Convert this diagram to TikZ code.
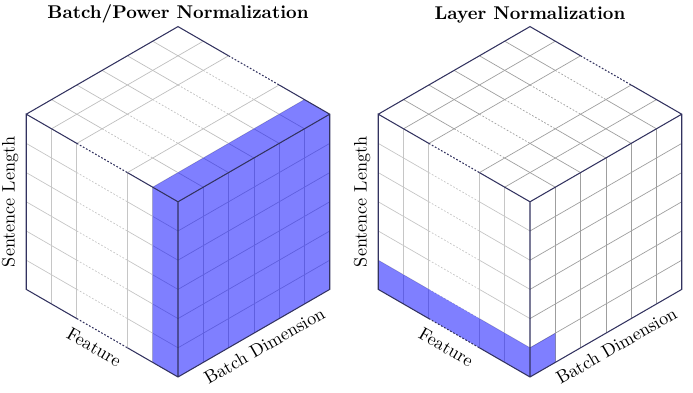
\documentclass[tikz,border=0pt]{standalone}
\definecolor{edgecol}{RGB}{50,50,95}
\tikzset{
  cubeedge/.style={edgecol, line width=0.6pt},
  gridline/.style={gray!50, line width=0.4pt},
  sideline/.style={gray!45, line width=0.4pt},
  dots/.style={dash pattern=on 1pt off 1pt},
  normfill/.style={fill=blue, fill opacity=0.5},
  headline/.style={font=\fontsize{10.5pt}{12pt}\selectfont\bfseries},
  axislabel/.style={font=\fontsize{10.3pt}{12pt}\selectfont}
}
\begin{document}
\begin{tikzpicture}[x={(-0.5058cm,0.292cm)}, y={(0.5058cm,0.292cm)}, z={(0cm,0.584cm)}]
 \useasboundingbox (-3.56cm,-0.32cm) rectangle (10.3cm,7.54cm);

 % batch/power normalization
 \node[headline] (bntitle) at (0cm,7.26cm) {Batch/Power Normalization};
 \foreach \b in {1,...,5} {
  \draw[gridline] (6,\b,6) -- (4,\b,6) (2,\b,6) -- (0,\b,6);
  \draw[gridline,dots] (4,\b,6) -- (2,\b,6);
 }
 \foreach \f in {1,2,4,5} \draw[gridline] (\f,0,6) -- (\f,6,6);
 \foreach \s in {1,...,5} {
  \draw[sideline] (6,0,\s) -- (4,0,\s) (2,0,\s) -- (0,0,\s);
  \draw[sideline,dots] (4,0,\s) -- (2,0,\s);
 }
 \foreach \f in {1,2,4,5} \draw[sideline] (\f,0,0) -- (\f,0,6);
 \foreach \s in {1,...,5} \draw[gridline] (0,0,\s) -- (0,6,\s);
 \foreach \b in {1,...,5} \draw[gridline] (0,\b,0) -- (0,\b,6);
 \fill[normfill] (1,0,0) -- (0,0,0) -- (0,6,0) -- (0,6,6) -- (1,6,6) -- (1,0,6) -- cycle;
 \draw[cubeedge] (4,0,0) -- (6,0,0) -- (6,0,6) -- (4,0,6) (6,0,6) -- (6,6,6) -- (4,6,6);
 \draw[cubeedge] (2,6,6) -- (0,6,6) -- (0,6,0) -- (0,0,0) -- (2,0,0) (0,0,0) -- (0,0,6) -- (2,0,6) (0,0,6) -- (0,6,6);
 \draw[cubeedge,dots] (4,0,0) -- (2,0,0) (4,0,6) -- (2,0,6) (4,6,6) -- (2,6,6);
 \node[axislabel,rotate=90,above=1pt] (bnlength) at (6,0,3) {Sentence Length};
 \node[axislabel,rotate=-30,below=2pt] (bnfeature) at (3,0,0) {Feature};
 \node[axislabel,rotate=30,below=2pt] (bnbatch) at (0,3.1,0) {Batch Dimension};

 % layer normalization
 \begin{scope}[shift={(7.04cm,0cm)}, gridline/.style={gray!75, line width=0.4pt}]
 \node[headline] (lntitle) at (0cm,7.24cm) {Layer Normalization};
 \foreach \b in {1,...,5} {
  \draw[gridline] (6,\b,6) -- (4,\b,6) (2,\b,6) -- (0,\b,6);
  \draw[gridline,dots] (4,\b,6) -- (2,\b,6);
 }
 \foreach \f in {1,2,4,5} \draw[gridline] (\f,0,6) -- (\f,6,6);
 \foreach \s in {1,...,5} {
  \draw[sideline] (6,0,\s) -- (4,0,\s) (2,0,\s) -- (0,0,\s);
  \draw[sideline,dots] (4,0,\s) -- (2,0,\s);
 }
 \foreach \f in {1,2,4,5} \draw[sideline] (\f,0,0) -- (\f,0,6);
 \foreach \s in {1,...,5} \draw[gridline] (0,0,\s) -- (0,6,\s);
 \foreach \b in {1,...,5} \draw[gridline] (0,\b,0) -- (0,\b,6);
 \fill[normfill] (6,0,0) -- (0,0,0) -- (0,1,0) -- (0,1,1) -- (0,0,1) -- (6,0,1) -- cycle;
 \draw[cubeedge] (4,0,0) -- (6,0,0) -- (6,0,6) -- (4,0,6) (6,0,6) -- (6,6,6) -- (4,6,6);
 \draw[cubeedge] (2,6,6) -- (0,6,6) -- (0,6,0) -- (0,0,0) -- (2,0,0) (0,0,0) -- (0,0,6) -- (2,0,6) (0,0,6) -- (0,6,6);
 \draw[cubeedge,dots] (4,0,0) -- (2,0,0) (4,0,6) -- (2,0,6) (4,6,6) -- (2,6,6);
 \node[axislabel,rotate=90,above=1pt] (lnlength) at (6,0,3) {Sentence Length};
 \node[axislabel,rotate=-30,below=2pt] (lnfeature) at (3,0,0) {Feature};
 \node[axislabel,rotate=30,below=2pt] (lnbatch) at (0,3.1,0) {Batch Dimension};
 \end{scope}
\end{tikzpicture}
\end{document}
